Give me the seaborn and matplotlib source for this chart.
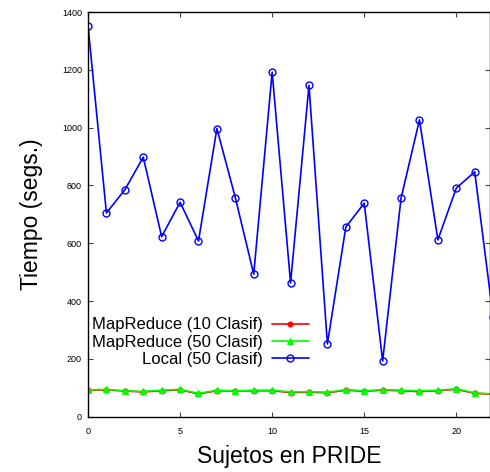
import matplotlib
matplotlib.use("Agg")
import matplotlib.pyplot as plt
import seaborn as sns
import numpy as np
import pandas as pd

# Execution time per PRIDE subject (seconds)
sujetos = list(range(23))
mapreduce_10 = [91, 93, 89, 86, 90, 93, 79, 90, 89, 90, 90, 84, 85, 83, 92, 88, 92, 90, 87, 90, 95, 81, 78]
mapreduce_50 = [93, 95, 90, 88, 92, 95, 81, 92, 90, 92, 92, 86, 87, 85, 94, 90, 94, 92, 90, 92, 97, 83, 79]
local_50 = [1353, 705, 785, 898, 623, 742, 608, 997, 758, 493, 1192, 463, 1146, 252,
            656, 739, 193, 756, 1027, 612, 791, 847, 345]

etiquetas = ["MapReduce (10 Clasif)", "MapReduce (50 Clasif)", "Local (50 Clasif)"]
y_ticks = [0, 200, 400, 600, 800, 1000, 1200, 1400]
x_ticks = [0, 5, 10, 15, 20]

sns.set_style("ticks")
plt.rcParams["font.family"] = ["Liberation Sans", "DejaVu Sans"]
plt.rcParams["text.color"] = "black"
plt.rcParams["axes.labelcolor"] = "black"
plt.rcParams["xtick.labelcolor"] = "black"
plt.rcParams["ytick.labelcolor"] = "black"

fig = plt.figure(figsize=(4.90, 4.72), dpi=100)
ax = fig.add_axes([88 / 490, 1 - 416.8 / 472, 1 - 88 / 490, (416.8 - 12) / 472])

sns.lineplot(x=sujetos, y=mapreduce_10, ax=ax, color="#ff0000", lw=1.2,
             marker="o", markersize=3.5, markeredgewidth=0.8, markeredgecolor="#ff0000",
             label=etiquetas[0])
sns.lineplot(x=sujetos, y=mapreduce_50, ax=ax, color="#00ff00", lw=1.2,
             marker="^", markersize=5.0, markeredgewidth=0.8, markeredgecolor="#00ff00",
             label=etiquetas[1])
sns.lineplot(x=sujetos, y=local_50, ax=ax, color="#0000ff", lw=1.2,
             marker="o", markersize=5.0, markerfacecolor="none", markeredgewidth=1.0,
             markeredgecolor="#0000ff", label=etiquetas[2])

ax.set_xlim(0, 21.83)
ax.set_ylim(0, 1400)
ax.set_xticks(x_ticks)
ax.set_yticks(y_ticks)
ax.tick_params(direction="in", length=3.6, width=0.8, labelsize=6.5,
               top=True, right=True, color="#444444")
ax.tick_params(axis="x", pad=7)
ax.tick_params(axis="y", pad=4.3)
for s in ax.spines.values():
    s.set_linewidth(1.0)
    s.set_color("black")

ax.set_xlabel("Sujetos en PRIDE", fontsize=16.5, labelpad=7)
ax.set_ylabel("Tiempo (segs.)", fontsize=16.5, labelpad=14)

leg = ax.legend(loc="upper right", bbox_to_anchor=(309 / 490, 1 - 317.5 / 472),
                bbox_transform=fig.transFigure, frameon=False, markerfirst=False,
                fontsize=12, handlelength=2.25, handletextpad=0.5, labelspacing=0.14,
                borderpad=0, borderaxespad=0)

fig.savefig("out.png", dpi=100)
